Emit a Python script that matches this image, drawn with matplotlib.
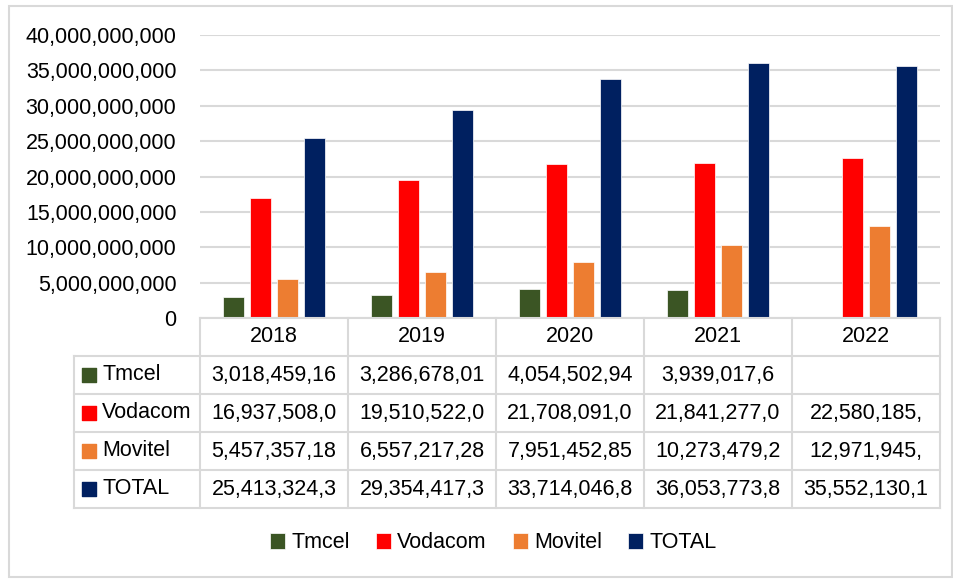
import numpy as np
import matplotlib.pyplot as plt
from matplotlib.patches import Rectangle
from matplotlib.ticker import FuncFormatter

plt.rcParams['font.family'] = ['Liberation Sans', 'DejaVu Sans']

# Dados
years = ['2018', '2019', '2020', '2021', '2022']
series = ['Tmcel', 'Vodacom', 'Movitel', 'TOTAL']
tmcel = [3018459160, 3286678010, 4054502940, 3939017600, np.nan]
vodacom = [16937508000, 19510522000, 21708091000, 21841277000, 22580185000]
movitel = [5457357180, 6557217280, 7951452850, 10273479200, 12971945000]
total = [25413324300, 29354417300, 33714046800, 36053773800, 35552130100]

# texto da tabela (cortado como no original)
table_text = [
    ['3,018,459,16', '3,286,678,01', '4,054,502,94', '3,939,017,6', ''],
    ['16,937,508,0', '19,510,522,0', '21,708,091,0', '21,841,277,0', '22,580,185,'],
    ['5,457,357,18', '6,557,217,28', '7,951,452,85', '10,273,479,2', '12,971,945,'],
    ['25,413,324,3', '29,354,417,3', '33,714,046,8', '36,053,773,8', '35,552,130,1'],
]
colors = ['#3b5524', '#ff0000', '#ed7d31', '#002060']
grid_col = '#d9d9d9'
fs = 15.5

W, H = 954, 580
fig = plt.figure(figsize=(W / 100, H / 100), dpi=100)

# moldura exterior
fig.patches.append(Rectangle((9 / W, 3 / H), 943 / W, 571 / H, transform=fig.transFigure,
                             fill=False, edgecolor=grid_col, linewidth=1.5))

ax = fig.add_axes([200 / W, 1 - 318 / H, 740 / W, (318 - 35) / H])
x = np.arange(len(years))
step = 0.182
bw = 0.142
values = [tmcel, vodacom, movitel, total]
bars = []
for i, (name, vals) in enumerate(zip(series, values)):
    b = ax.bar(x + (i - 1.5) * step, vals, width=bw, color=colors[i], label=name,
               edgecolor='white', linewidth=0.5)
    bars.append(b)

ax.set_xlim(-0.5, 4.5)
ax.set_ylim(0, 40e9)
ax.set_yticks(np.arange(0, 40e9 + 1, 5e9))
ax.yaxis.set_major_formatter(FuncFormatter(lambda v, p: f'{int(v):,}'))
ax.set_xticks([])
ax.tick_params(axis='y', length=0, pad=17, labelsize=fs)
for s in ax.spines.values():
    s.set_visible(False)
ax.yaxis.grid(True, color=grid_col, linewidth=1.5)
ax.set_axisbelow(True)

# tabela de dados
left = -0.5 - 126 / 148
axt = fig.add_axes([74 / W, 1 - 508 / H, 866 / W, 190 / H])
axt.set_xlim(left, 4.5)
axt.set_ylim(5, 0)
axt.axis('off')
lk = dict(color=grid_col, linewidth=1.5, clip_on=False)
axt.plot([-0.5, 4.5], [0, 0], **lk)
for r in range(1, 6):
    axt.plot([left, 4.5], [r, r], **lk)
axt.plot([left, left], [1, 5], **lk)
for c in np.arange(-0.5, 5, 1):
    axt.plot([c, c], [0, 5], **lk)

for j, yr in enumerate(years):
    axt.text(j, 0.5, yr, ha='center', va='center', fontsize=fs)
for i, name in enumerate(series):
    axt.scatter([left + 15 / 148], [i + 1.5], marker='s', s=110, color=colors[i], clip_on=False)
    axt.text(left + 28 / 148, i + 1.5, name, ha='left', va='center', fontsize=fs)
    for j in range(len(years)):
        axt.text(j, i + 1.5, table_text[i][j], ha='center', va='center', fontsize=fs)

fig.legend(handles=bars, labels=series, loc='center', bbox_to_anchor=(0.517, 1 - 543 / H),
           ncol=4, frameon=False, fontsize=fs, handlelength=0.7, handleheight=0.7,
           handletextpad=0.3, columnspacing=1.2)

fig.savefig('out.png', dpi=100)
